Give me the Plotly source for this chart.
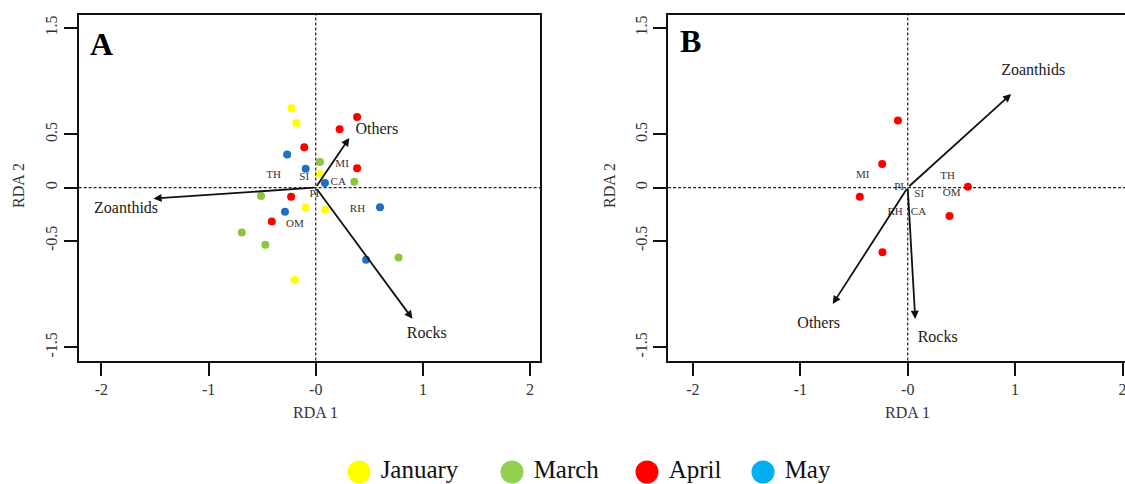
import plotly.graph_objects as go

# ---------------- data ----------------
months = ["January", "March", "April", "May"]
month_colors = ["#FFFF00", "#8CC63F", "#FF0000", "#1F70C1"]
legend_colors = ["#FFFF00", "#92D050", "#FF0000", "#00B0F0"]

# Panel A sample scores (RDA1, RDA2) by month
a_jan_x = [-0.227, -0.18, 0.037, -0.093, 0.087, -0.197]
a_jan_y = [0.745, 0.608, 0.128, -0.188, -0.21, -0.869]
a_mar_x = [0.04, 0.36, -0.51, -0.69, -0.47, 0.773]
a_mar_y = [0.241, 0.054, -0.078, -0.423, -0.538, -0.657]
a_apr_x = [0.386, 0.223, -0.107, 0.386, -0.23, -0.41]
a_apr_y = [0.664, 0.548, 0.379, 0.182, -0.085, -0.319]
a_may_x = [-0.267, -0.094, 0.086, -0.287, 0.6, 0.47]
a_may_y = [0.31, 0.176, 0.044, -0.228, -0.184, -0.679]

# Panel A environmental arrows
a_env = ["Others", "Zoanthids", "Rocks"]
a_env_x = [0.313, -1.514, 0.903]
a_env_y = [0.467, -0.103, -1.233]
a_env_lx = [0.57, -1.77, 1.036]
a_env_ly = [0.54, -0.203, -1.377]

# Panel A species labels
a_sp = ["TH", "SI", "MI", "CA", "PI", "RH", "OM"]
a_sp_x = [-0.394, -0.107, 0.246, 0.21, -0.013, 0.39, -0.194]
a_sp_y = [0.113, 0.094, 0.216, 0.05, -0.059, -0.203, -0.344]

# Panel B sample scores (April only)
b_apr_x = [-0.091, -0.238, -0.446, 0.56, 0.389, -0.235]
b_apr_y = [0.63, 0.222, -0.085, 0.009, -0.266, -0.608]

# Panel B environmental arrows
b_env = ["Zoanthids", "Others", "Rocks"]
b_env_x = [0.963, -0.698, 0.07]
b_env_y = [0.88, -1.093, -1.234]
b_env_lx = [1.168, -0.829, 0.279]
b_env_ly = [1.093, -1.284, -1.409]

# Panel B species labels
b_sp = ["MI", "PI", "TH", "SI", "OM", "RH", "CA"]
b_sp_x = [-0.419, -0.08, 0.372, 0.107, 0.409, -0.117, 0.1]
b_sp_y = [0.113, 0.0, 0.106, -0.06, -0.053, -0.232, -0.235]

x_ticks = [-2, -1, 0, 1, 2]
x_ticktext = ["-2", "-1", "-0", "1", "2"]
y_ticks = [1.5, 0.5, 0, -0.5, -1.5]
y_ticktext = ["1.5", "0.5", "0", "-0.5", "-1.5"]

# ---------------- figure ----------------
SERIF = "Liberation Serif"
fig = go.Figure()

a_sets = [(a_jan_x, a_jan_y), (a_mar_x, a_mar_y), (a_apr_x, a_apr_y), (a_may_x, a_may_y)]
for (xs, ys), m, c in zip(a_sets, months, month_colors):
    fig.add_trace(go.Scatter(x=xs, y=ys, mode="markers", name=m, showlegend=False,
                             marker=dict(color=c, size=8, line=dict(width=0)),
                             xaxis="x", yaxis="y"))

fig.add_trace(go.Scatter(x=b_apr_x, y=b_apr_y, mode="markers", name="April", showlegend=False,
                         marker=dict(color=month_colors[2], size=8, line=dict(width=0)),
                         xaxis="x2", yaxis="y2"))

# species labels
fig.add_trace(go.Scatter(x=a_sp_x, y=a_sp_y, mode="text", text=a_sp, showlegend=False,
                         textfont=dict(family=SERIF, size=11, color="#333333"),
                         xaxis="x", yaxis="y"))
fig.add_trace(go.Scatter(x=b_sp_x, y=b_sp_y, mode="text", text=b_sp, showlegend=False,
                         textfont=dict(family=SERIF, size=11, color="#333333"),
                         xaxis="x2", yaxis="y2"))

# env labels
fig.add_trace(go.Scatter(x=a_env_lx, y=a_env_ly, mode="text", text=a_env, showlegend=False,
                         textfont=dict(family=SERIF, size=16, color="#1a1a1a"),
                         xaxis="x", yaxis="y"))
fig.add_trace(go.Scatter(x=b_env_lx, y=b_env_ly, mode="text", text=b_env, showlegend=False,
                         textfont=dict(family=SERIF, size=16, color="#1a1a1a"),
                         xaxis="x2", yaxis="y2"))

# custom legend (bottom strip)
legend_pos = [359, 512, 647, 763]
fig.add_trace(go.Scatter(x=legend_pos, y=[12] * 4, mode="markers+text",
                         text=["\u00a0" + m for m in months],
                         textposition="middle right", showlegend=False,
                         textfont=dict(family=SERIF, size=25, color="#111111"),
                         marker=dict(color=legend_colors, size=23, line=dict(width=0)),
                         xaxis="x3", yaxis="y3", hoverinfo="skip", cliponaxis=False))

annotations = []
for xs, ys, xr, yr in [(a_env_x, a_env_y, "x", "y"), (b_env_x, b_env_y, "x2", "y2")]:
    for tx, ty in zip(xs, ys):
        annotations.append(dict(x=tx, y=ty, ax=0, ay=0, xref=xr, yref=yr,
                                axref=xr, ayref=yr, text="", showarrow=True,
                                arrowhead=2, arrowsize=0.9, arrowwidth=1.8,
                                arrowcolor="#111111"))

annotations += [
    dict(x=-2.0, y=1.35, xref="x", yref="y", text="<b>A</b>", showarrow=False,
         font=dict(family=SERIF, size=32, color="black")),
    dict(x=-2.02, y=1.38, xref="x2", yref="y2", text="<b>B</b>", showarrow=False,
         font=dict(family=SERIF, size=32, color="black")),
    dict(x=0, y=72 / 484, xref="x", yref="paper", text="RDA 1", showarrow=False,
         font=dict(family=SERIF, size=16, color="#333333"), yanchor="middle"),
    dict(x=0, y=72 / 484, xref="x2", yref="paper", text="RDA 1", showarrow=False,
         font=dict(family=SERIF, size=16, color="#333333"), yanchor="middle"),
    dict(x=19 / 1125, y=1 - 186 / 484, xref="paper", yref="paper", text="RDA 2",
         showarrow=False, textangle=-90, xanchor="center", yanchor="middle",
         font=dict(family=SERIF, size=16, color="#333333")),
    dict(x=610 / 1125, y=1 - 186 / 484, xref="paper", yref="paper", text="RDA 2",
         showarrow=False, textangle=-90, xanchor="center", yanchor="middle",
         font=dict(family=SERIF, size=16, color="#333333")),
]

shapes = []
for xr, yr in [("x", "y"), ("x2", "y2")]:
    shapes.append(dict(type="line", xref=xr, yref=yr + " domain", x0=0, x1=0, y0=0, y1=1,
                       line=dict(color="#222222", width=1.2, dash="3px,2px")))
    shapes.append(dict(type="line", xref=xr + " domain", yref=yr, x0=0, x1=1, y0=0, y1=0,
                       line=dict(color="#222222", width=1.2, dash="3px,2px")))

ydom = [1 - 360.5 / 484, 1 - 15 / 484]
common_x = dict(tickmode="array", tickvals=x_ticks, ticktext=x_ticktext, ticks="outside",
                ticklen=13, tickwidth=1.8, tickcolor="#111111", showline=True,
                linecolor="#111111", linewidth=2, showgrid=False, zeroline=False,
                automargin=False, ticklabeloverflow="allow",
                tickfont=dict(family=SERIF, size=16, color="#333333"))
common_y = dict(tickmode="array", tickvals=y_ticks, ticktext=y_ticktext, ticks="outside",
                ticklen=13, tickwidth=1.8, tickcolor="#111111", showline=True,
                linecolor="#111111", linewidth=2, showgrid=False, zeroline=False,
                automargin=False,
                tickangle=-90, range=[-1.625, 1.622], domain=ydom,
                tickfont=dict(family=SERIF, size=16, color="#333333"))

fig.update_layout(
    width=1125, height=484,
    margin=dict(l=0, r=0, t=0, b=0, pad=0, autoexpand=False),
    paper_bgcolor="white", plot_bgcolor="rgba(0,0,0,0)",
    xaxis=dict(common_x, domain=[78.6 / 1125, 540 / 1125], range=[-2.213, 2.093],
               mirror=True, anchor="y"),
    yaxis=dict(common_y, mirror=True, anchor="x"),
    xaxis2=dict(common_x, domain=[668.1 / 1125, 1.0], range=[-2.231, 2.023],
                mirror=True, anchor="y2"),
    yaxis2=dict(common_y, mirror=False, anchor="x2"),
    xaxis3=dict(domain=[0, 1], range=[0, 1125], visible=False, anchor="y3", automargin=False),
    yaxis3=dict(domain=[0, 60 / 484], range=[0, 60], visible=False, anchor="x3", automargin=False),
    annotations=annotations,
    shapes=shapes,
    showlegend=False,
)

fig.write_html("out.html", config={"displayModeBar": False},
               post_script="document.body.style.margin='0';document.body.style.overflow='hidden';")
